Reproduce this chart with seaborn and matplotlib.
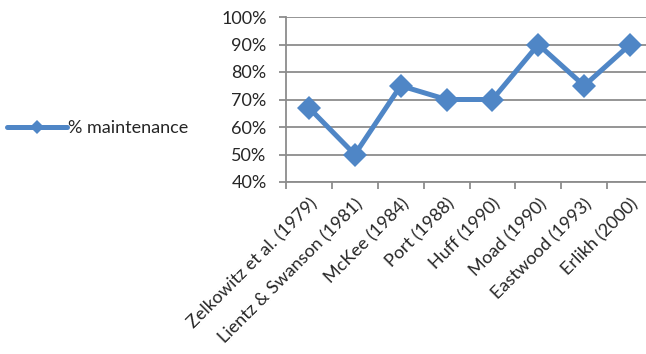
"""
Maintenance share of software cost - line chart
"""

import pandas as pd
import seaborn as sns
import matplotlib.pyplot as plt
from matplotlib.ticker import PercentFormatter, FixedLocator
from matplotlib.lines import Line2D

sns.set_style('white')
plt.rcParams['font.family'] = ['Lato', 'DejaVu Sans']

# Data

Studies = ['Zelkowitz et al. (1979)', 'Lientz & Swanson (1981)', 'McKee (1984)',
           'Port (1988)', 'Huff (1990)', 'Moad (1990)', 'Eastwood (1993)', 'Erlikh (2000)']
Maintenance = [0.67, 0.50, 0.75, 0.70, 0.70, 0.90, 0.75, 0.90]
SeriesName = '% maintenance'

df = pd.DataFrame({'Study': Studies, 'Share': Maintenance})
df['Pos'] = range(len(df))

LineColor = '#4F86C6'
GridColor = '#8C8C8C'
FontSize = 13

fig = plt.figure(figsize=(6.46, 3.54), dpi=100)
ax = fig.add_axes([286 / 646, 1 - 182 / 354, 367 / 646, 165 / 354])

sns.lineplot(data=df, x='Pos', y='Share', ax=ax, sort=False, color=LineColor,
             linewidth=3.6, marker='D', markersize=12.5, markeredgewidth=0,
             legend=False)

# Axes formatting

ax.set_ylim(0.4, 1.0)
ax.set_xlim(-0.5, len(Studies) - 0.5)
ax.set_yticks([0.4, 0.5, 0.6, 0.7, 0.8, 0.9, 1.0])
ax.yaxis.set_major_formatter(PercentFormatter(1.0, decimals=0))
ax.set_xticks(df['Pos'])
ax.set_xticklabels(Studies, rotation=45, ha='right', rotation_mode='anchor')
ax.xaxis.set_minor_locator(FixedLocator([p - 0.5 for p in range(len(Studies) + 1)]))
ax.set_xlabel('')
ax.set_ylabel('')

ax.grid(axis='y', color=GridColor, linewidth=1.3)
ax.set_axisbelow(True)
for side in ['top', 'right']:
    ax.spines[side].set_visible(False)
for side in ['left', 'bottom']:
    ax.spines[side].set_color(GridColor)
    ax.spines[side].set_linewidth(1.3)

ax.tick_params(axis='y', which='major', direction='out', length=5, width=1.3,
               color=GridColor, labelsize=FontSize, pad=9, left=True)
ax.tick_params(axis='x', which='major', length=0, labelsize=FontSize, pad=10)
ax.tick_params(axis='x', which='minor', direction='out', length=5, width=1.3,
               color=GridColor, bottom=True)

# Legend on the left

Handle = Line2D([], [], color=LineColor, linewidth=3.6, marker='D',
                markersize=7, markeredgewidth=0)
fig.legend([Handle], [SeriesName], loc='center left', bbox_to_anchor=(0.0, 1 - 128 / 354),
           frameon=False, fontsize=FontSize, handlelength=3.3, handletextpad=0.05,
           borderaxespad=0.0, borderpad=0.4)

plt.savefig('out.png', dpi=100)
